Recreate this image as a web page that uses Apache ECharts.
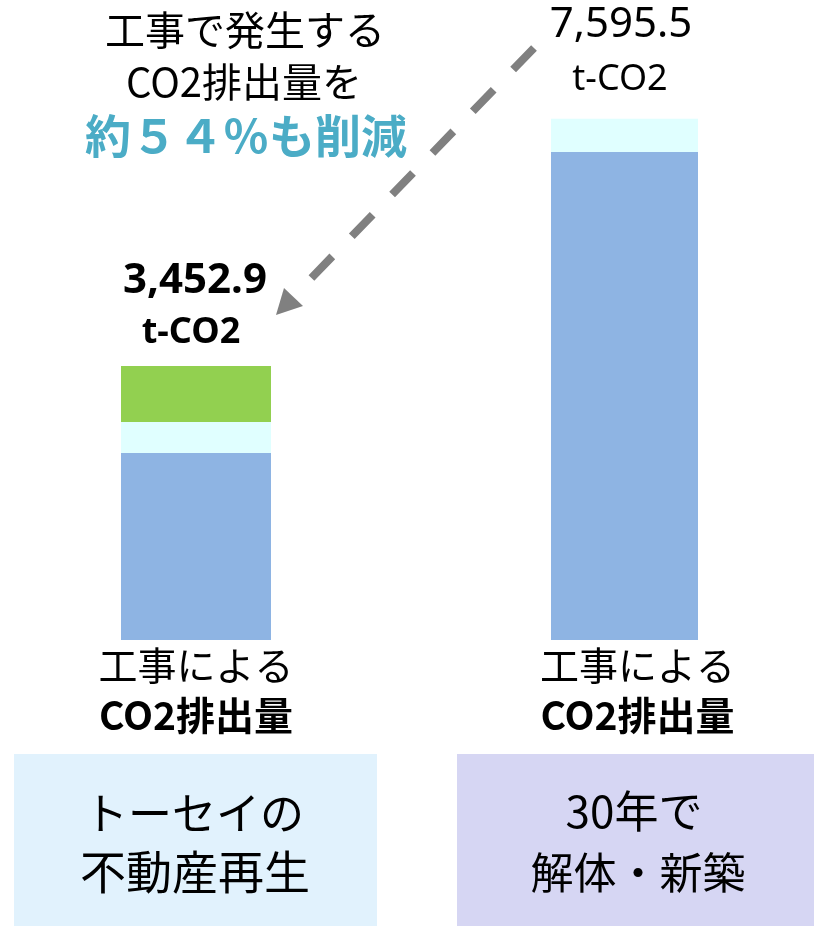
<!DOCTYPE html>
<html>
<head>
<meta charset="utf-8">
<script src="https://cdn.jsdelivr.net/npm/echarts@6/dist/echarts.min.js"></script>
<style>
  html, body { margin: 0; padding: 0; background: #fff; }
  #main { width: 814px; height: 926px; }
</style>
</head>
<body>
<div id="main"></div>
<script>
// カテゴリ
const categories = ['トーセイの不動産再生', '30年で解体・新築']
const labelLine1 = ['工事による', '工事による']
const labelLine2 = ['CO2排出量', 'CO2排出量']
// 積み上げ値 (t-CO2, 図から読み取り)
const baseValues = [2725, 7110]
const midValues = [452, 485]
const topValues = [816, 0]
// 合計ラベル
const totalLabels = ['3,452.9', '7,595.5']
const unitLabel = 't-CO2'

const JP = '"Noto Sans CJK JP", "Noto Sans", sans-serif'
const NUM = '"Noto Sans", "Noto Sans CJK JP", sans-serif'
const colors = ['#8EB4E3', '#E0FFFF', '#92D050']

const chart = echarts.init(document.getElementById('main'))

// 棒ごとにgridを分ける
const gridBoxes = [
  { left: 121, width: 150, top: 91, bottom: 286 },
  { left: 551, width: 147, top: 91, bottom: 286 }
]

const xAxes = categories.map((c, i) => ({
  type: 'category',
  gridIndex: i,
  data: [c],
  axisLine: { show: false },
  axisTick: { show: false },
  axisLabel: {
    margin: 0,
    interval: 0,
    padding: i === 1 ? [0, 0, 0, 26] : 0,
    formatter: () => '{a|' + labelLine1[i] + '}\n{b|' + labelLine2[i] + '}',
    rich: {
      a: { fontFamily: JP, fontSize: 39, lineHeight: 50, color: '#000' },
      b: { fontFamily: JP, fontSize: 39, fontWeight: 'bold', lineHeight: 50, color: '#000' }
    }
  }
}))

const yAxes = categories.map((c, i) => ({
  type: 'value', gridIndex: i, min: 0, max: 8000, show: false, splitLine: { show: false }
}))

const seriesArr = []
categories.forEach((c, i) => {
  [baseValues, midValues, topValues].forEach((arr, k) => {
    seriesArr.push({
      type: 'bar',
      xAxisIndex: i,
      yAxisIndex: i,
      stack: 'co2_' + i,
      barWidth: '100%',
      data: [arr[i]],
      itemStyle: { color: colors[k] }
    })
  })
})

const option = {
  animation: false,
  backgroundColor: '#ffffff',
  grid: gridBoxes,
  xAxis: xAxes,
  yAxis: yAxes,
  series: seriesArr,
  graphic: [
    // 下のボックス
    { type: 'rect', shape: { x: 14, y: 754, width: 363, height: 172 }, style: { fill: '#E1F2FD' } },
    { type: 'rect', shape: { x: 457, y: 754, width: 357, height: 172 }, style: { fill: '#D6D6F3' } },
    { type: 'text', x: 194, y: 813, style: { text: 'トーセイの', font: '44px ' + JP, fill: '#000', align: 'center', verticalAlign: 'middle' } },
    { type: 'text', x: 195, y: 872, style: { text: '不動産再生', font: '46px ' + JP, fill: '#000', align: 'center', verticalAlign: 'middle' } },
    { type: 'text', x: 634, y: 811, style: { text: '30年で', font: '44px ' + JP, fill: '#000', align: 'center', verticalAlign: 'middle' } },
    { type: 'text', x: 638, y: 873, style: { text: '解体・新築', font: '43px ' + JP, fill: '#000', align: 'center', verticalAlign: 'middle' } },
    // 見出し
    { type: 'text', x: 245, y: 30, style: { text: '工事で発生する', font: '40px ' + JP, fill: '#000', align: 'center', verticalAlign: 'middle' } },
    { type: 'text', x: 244, y: 82, style: { text: 'CO2排出量を', font: '40px ' + JP, fill: '#000', align: 'center', verticalAlign: 'middle' } },
    { type: 'text', x: 246, y: 136, style: { text: '約５４％も削減', font: 'bold 46px ' + JP, fill: '#4BACC6', align: 'center', verticalAlign: 'middle' } },
    // 合計
    { type: 'text', x: 195, y: 281, style: { text: totalLabels[0], font: 'bold 42px ' + NUM, fill: '#000', align: 'center', verticalAlign: 'middle' } },
    { type: 'text', x: 191, y: 333, style: { text: unitLabel, font: 'bold 36px ' + NUM, fill: '#000', align: 'center', verticalAlign: 'middle' } },
    { type: 'text', x: 621, y: 25, style: { text: totalLabels[1], font: '42px ' + NUM, fill: '#000', align: 'center', verticalAlign: 'middle' } },
    { type: 'text', x: 620, y: 80, style: { text: unitLabel, font: '36px ' + NUM, fill: '#000', align: 'center', verticalAlign: 'middle' } },
    // 矢印
    { type: 'line', shape: { x1: 534, y1: 48, x2: 293, y2: 297 },
      style: { stroke: '#808080', lineWidth: 8, lineDash: [30, 28] } },
    { type: 'polygon', shape: { points: [[276, 315], [303, 306], [284, 288]] },
      style: { fill: '#808080' } }
  ]
}

chart.setOption(option)
</script>
</body>
</html>
